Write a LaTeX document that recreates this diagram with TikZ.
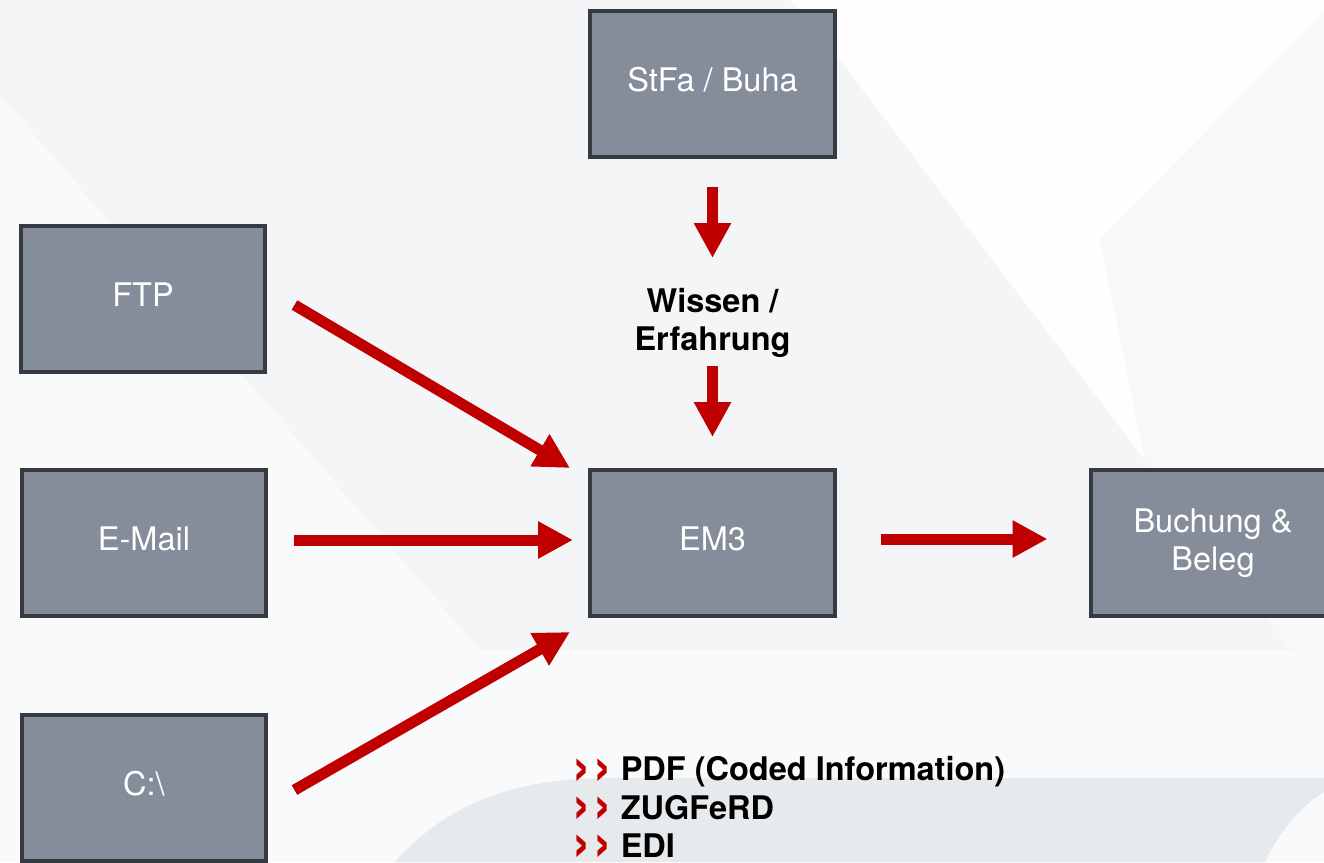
\documentclass[tikz,border=0pt]{standalone}
\usepackage{fontspec}
\setmainfont{TeX Gyre Heros}
\usepackage{xcolor}
\usetikzlibrary{
    arrows.meta,
    calc,
    positioning
}
\definecolor{boxfill}{HTML}{858D9A}
\definecolor{boxline}{HTML}{363B42}
\definecolor{flowred}{HTML}{C00000}
\definecolor{bgbase}{HTML}{F9FAFB}
\definecolor{bggray}{HTML}{F4F5F7}
\definecolor{bglight}{HTML}{F7F8F9}
\definecolor{bgwhite}{HTML}{FEFEFE}
\definecolor{bgband}{HTML}{E7EAED}
\newcommand{\pfeile}{\textcolor{flowred}{\smash{\raisebox{-0.13em}{\scalebox{1.7}{›\kern0.05em›}}}}}
\tikzset{
    quelle/.style={draw=boxline, fill=boxfill, line width=0.08cm,
        minimum width=4.9cm, minimum height=2.92cm, inner sep=0pt,
        outer sep=0pt, text=white, align=center,
        font=\fontsize{18.5}{21.5}\selectfont},
    einzeilig/.style={quelle, text height=0.47cm, text depth=0.16cm},
    hinweis/.style={font=\bfseries\fontsize{18.5}{21.8}\selectfont, align=center},
    flow/.style={->, draw=flowred, line width=0.22cm}
}

\begin{document}
\begin{tikzpicture}[x=0.02cm, y=-0.02cm, >={Triangle[length=0.7cm, width=0.7cm]}]
                        \useasboundingbox (0, 0) rectangle (1324, 862);
                        \clip (0, 0) rectangle (1324, 862);
                        % background
                        \fill[bgbase] (0, 0) rectangle (1324, 862);
                        \fill[bggray] (0, 0) -- (1324, 0) -- (1324, 650) -- (480, 650) -- (0, 95) -- cycle;
                        \fill[bgwhite] (790, 0) -- (1324, 0) -- (1324, 12) -- (1100, 240) -- (1145, 460) -- (840, 60) -- cycle;
                        \fill[bglight] (1324, 12) -- (1324, 650) -- (1290, 650) -- (1145, 460) -- (1100, 240) -- cycle;
                        \fill[bgband] (395, 862) .. controls (450, 800) and (520, 778) .. (610, 778)
                        -- (1324, 778) -- (1324, 792) .. controls (1295, 810) and (1275, 840) .. (1265, 862) -- cycle;
                        % boxes
                        \node[einzeilig] (stfa) at (712.5, 84) {StFa / Buha};
                        \node[einzeilig] (ftp) at (143, 299) {FTP};
                        \node[einzeilig] (email) at (144, 543) {E-Mail};
                        \node[einzeilig] (laufwerk) at (144, 788) {C:\textbackslash};
                        \node[einzeilig] (em3) at (712.5, 543) {EM3};
                        \node[quelle] (buchung) at (1213, 543) {Buchung \&\\Beleg};
                        \node[hinweis] (wissen) at (712.5, 323) {Wissen /\\Erfahrung};
                        \node[hinweis, align=left, anchor=west] (formate) at (566, 807)
                        {\pfeile\ PDF (Coded Information)\\
                        \pfeile\ ZUGFeRD\\
                        \pfeile\ EDI};
                        % arrows
                        \draw[flow] ($(ftp.east)+(29, 6)$) -- ($(em3.north west)+(-20, -2)$);
                        \draw[flow] ($(email.east)+(28, -3)$) -- ($(em3.west)+(-17, -3)$);
                        \draw[flow] ($(laufwerk.east)+(28, 2)$) -- ($(em3.south west)+(-20, 16)$);
                        \draw[flow] ($(em3.east)+(46, -4)$) -- ($(buchung.west)+(-43, -4)$);
                        \draw[flow] ($(stfa.south)+(0, 30)$) -- ($(wissen.center)+(0, -65)$);
                        \draw[flow] ($(wissen.center)+(0, 43)$) -- ($(em3.north)+(0, -33)$);
                    \end{tikzpicture}
\end{document}
